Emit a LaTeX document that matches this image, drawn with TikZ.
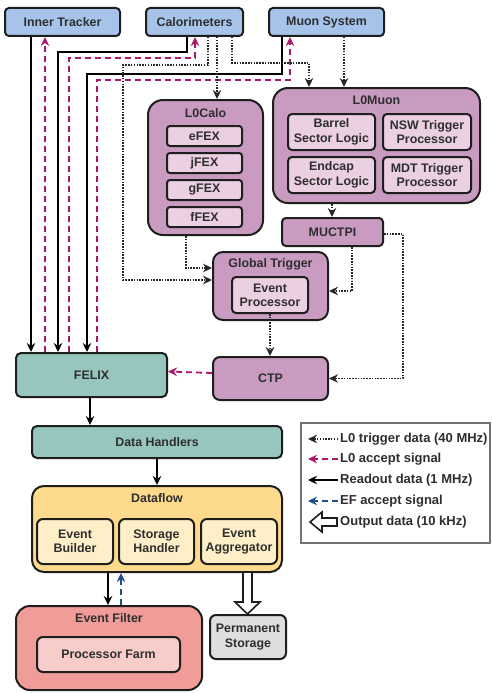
\documentclass[tikz,border=0pt]{standalone}
\usepackage{fontspec}
\setmainfont{Liberation Sans}
\usetikzlibrary{arrows.meta,calc}
\definecolor{cblue}{HTML}{A6C4EA}
\definecolor{cmauve}{HTML}{C99BC0}
\definecolor{cmauvel}{HTML}{EBD0E3}
\definecolor{cteal}{HTML}{97C6BF}
\definecolor{cyel}{HTML}{FDDA8C}
\definecolor{cyell}{HTML}{FEEFC8}
\definecolor{cred}{HTML}{F09C98}
\definecolor{credl}{HTML}{F7CCC9}
\definecolor{cgray}{HTML}{DEDEDE}
\definecolor{cmag}{HTML}{A8186A}
\definecolor{cnavy}{HTML}{1F4E8C}
\definecolor{cline}{HTML}{1E1E1E}
\begin{document}
\begin{tikzpicture}[x=1pt,y=-1pt,
  >={Stealth[length=9pt,width=8.5pt,inset=3pt]},
  txt/.style={font=\fontsize{12.4}{14.4}\selectfont\bfseries, text=black!82, align=center},
  box/.style={txt, draw=cline, line width=2pt, inner sep=0pt},
  topbox/.style={box, fill=cblue, rounded corners=4pt},
  l0box/.style={box, fill=cmauve},
  subbox/.style={box, fill=cmauvel, rounded corners=4pt},
  tealbox/.style={box, fill=cteal, rounded corners=5pt},
  yelbox/.style={box, fill=cyel},
  yelsub/.style={box, fill=cyell, rounded corners=6pt},
  title/.style={txt, inner sep=0pt},
  readout/.style={draw=black, line width=1.8pt, ->},
  accept/.style={draw=cmag, line width=1.8pt, dash pattern=on 6pt off 4pt, ->},
  trig/.style={draw=black!85, line width=1.7pt, dash pattern=on 1.5pt off 1.3pt, ->},
  efacc/.style={draw=cnavy, line width=1.8pt, dash pattern=on 6pt off 4pt, ->},
  legtext/.style={txt, font=\fontsize{13}{15}\selectfont\bfseries, anchor=west, inner sep=0pt}
]
\useasboundingbox (0,0) rectangle (491,693);
\fill[white] (0,0) rectangle (491,693);

% top detectors
\node[topbox, minimum width=115pt, minimum height=28pt] (it) at (62.5,22) {Inner Tracker};
\node[topbox, minimum width=97pt, minimum height=28pt] (cal) at (194.5,22) {Calorimeters};
\node[topbox, minimum width=115pt, minimum height=28pt] (mu) at (326.5,22) {Muon System};

% L0Calo
\node[l0box, rounded corners=15pt, minimum width=115pt, minimum height=135pt] (l0calo) at (205.5,167.5) {};
\node[title] (l0calot) at (205.5,113) {L0Calo};
\node[subbox, rounded corners=3pt, minimum width=75pt, minimum height=20pt] (efex) at (204.5,136) {eFEX};
\node[subbox, rounded corners=3pt, minimum width=75pt, minimum height=20pt] (jfex) at (204.5,163) {jFEX};
\node[subbox, rounded corners=3pt, minimum width=75pt, minimum height=20pt] (gfex) at (204.5,190) {gFEX};
\node[subbox, rounded corners=3pt, minimum width=75pt, minimum height=20pt] (ffex) at (204.5,217) {fFEX};

% L0Muon
\node[l0box, rounded corners=15pt, minimum width=207pt, minimum height=115pt] (l0muon) at (376.5,145.5) {};
\node[title] (l0muont) at (376.5,100) {L0Muon};
\node[subbox, minimum width=87pt, minimum height=36pt] (barrel) at (331.5,132) {Barrel\\Sector Logic};
\node[subbox, minimum width=88pt, minimum height=36pt] (nsw) at (427,132) {NSW Trigger\\Processor};
\node[subbox, minimum width=87pt, minimum height=36pt] (endcap) at (331.5,175) {Endcap\\Sector Logic};
\node[subbox, minimum width=88pt, minimum height=36pt] (mdt) at (427,175) {MDT Trigger\\Processor};

% MUCTPI, Global Trigger, CTP
\node[l0box, rounded corners=4pt, minimum width=101pt, minimum height=28pt] (muctpi) at (332.5,232) {MUCTPI};
\node[l0box, rounded corners=10pt, minimum width=115pt, minimum height=68pt] (gt) at (270.5,286) {};
\node[title] (gtt) at (270.5,264) {Global Trigger};
\node[subbox, minimum width=76pt, minimum height=36pt] (ep) at (270,295) {Event\\Processor};
\node[l0box, rounded corners=7pt, minimum width=115pt, minimum height=43pt] (ctp) at (270.5,378.5) {CTP};

% readout chain
\node[tealbox, minimum width=151pt, minimum height=44pt] (felix) at (91.5,375) {FELIX};
\node[tealbox, minimum width=250pt, minimum height=32pt] (dh) at (157,442) {Data Handlers};
\node[yelbox, rounded corners=12pt, minimum width=250pt, minimum height=86pt] (df) at (157,529) {};
\node[title] (dft) at (157,498) {Dataflow};
\node[yelsub, minimum width=76pt, minimum height=45pt] (eb) at (75,541.5) {Event\\Builder};
\node[yelsub, minimum width=75pt, minimum height=45pt] (sh) at (156.5,541.5) {Storage\\Handler};
\node[yelsub, minimum width=76pt, minimum height=45pt] (ea) at (239,541.5) {Event\\Aggregator};
\node[box, fill=cred, rounded corners=14pt, minimum width=186pt, minimum height=84pt] (ef) at (109,648) {};
\node[title] (eft) at (109,618) {Event Filter};
\node[box, fill=credl, rounded corners=6pt, minimum width=143pt, minimum height=35pt] (pf) at (108.5,654.5) {Processor Farm};
\node[box, fill=cgray, rounded corners=6pt, minimum width=76pt, minimum height=44pt] (ps) at (248,637) {Permanent\\Storage};

% detector readout / accept lines
\draw[readout] ([xshift=-31.5pt]it.south) -- ([xshift=-60.5pt]felix.north);
\draw[accept] ([xshift=-46.5pt]felix.north) -- ([xshift=-17.5pt]it.south);
\draw[readout] ([xshift=-7.5pt]cal.south) -- ++(0,15) -| ([xshift=-33.5pt]felix.north);
\draw[accept] ([xshift=-22.5pt]felix.north) |- (195,58) -- ([xshift=0.5pt]cal.south);
\draw[readout] ([xshift=-44.5pt]mu.south) -- ++(0,37) -| ([xshift=-4.5pt]felix.north);
\draw[accept] ([xshift=5.5pt]felix.north) |- (290,80) -- ([xshift=-36.5pt]mu.south);

% trigger data
\draw[trig] ([xshift=13.5pt]cal.south) |- (123,65) |- ([yshift=6pt]gt.west);
\draw[trig] ([xshift=22.5pt]cal.south) -- ([xshift=11.5pt]l0calo.north);
\draw[trig] ([xshift=37.5pt]cal.south) |- (309,63) -- ([xshift=-67.5pt]l0muon.north);
\draw[trig] ([xshift=17.5pt]mu.south) -- ([xshift=-32.5pt]l0muon.north);
\draw[trig] ([xshift=-19.5pt]l0calo.south) |- ([yshift=18pt]gt.west);
\draw[trig] ([xshift=-44.5pt]l0muon.south) -- ([xshift=-0.5pt]muctpi.north);
\draw[trig] ([xshift=19.5pt]muctpi.south) |- ([yshift=-5pt]gt.east);
\draw[trig] ([yshift=-2pt]muctpi.east) -- ++(19,0) |- (ctp.east);
\draw[trig] (ep.south) -- (ep.south |- ctp.north);

% L0 accept to FELIX
\draw[accept] ([yshift=5.5pt]ctp.west) -- ([yshift=3.5pt]felix.east);

% dataflow
\draw[readout] ([xshift=-1.5pt]felix.south) -- ([xshift=-1.5pt]felix.south |- dh.north);
\draw[readout] (dh.south) -- (df.north);
\draw[readout] ([xshift=-49pt]df.south) -- ([xshift=-1pt]ef.north);
\draw[efacc] ([xshift=12pt]ef.north) -- ([xshift=-36pt]df.south);

% hollow output arrow
\coordinate (pa) at ([xshift=90.5pt]df.south);
\coordinate (pb) at ([xshift=-0.5pt]ps.north);
\draw[draw=cline, fill=white, line width=1.6pt, line join=miter]
  ($(pa)+(-4.5,0)$) -- ($(pb)+(-4.5,-12)$) -- ($(pb)+(-12.5,-12)$) -- (pb)
  -- ($(pb)+(12.5,-12)$) -- ($(pb)+(4.5,-12)$) -- ($(pa)+(4.5,0)$);

% legend
\node[draw=black!55, line width=1.4pt, minimum width=189pt, minimum height=120pt, inner sep=0pt] (leg) at (395.5,483) {};
\node[legtext] (lg1) at (340,439) {L0 trigger data (40 MHz)};
\node[legtext] (lg2) at (340,459) {L0 accept signal};
\node[legtext] (lg3) at (340,480) {Readout data (1 MHz)};
\node[legtext] (lg4) at (340,501) {EF accept signal};
\node[legtext] (lg5) at (340,522) {Output data (10 kHz)};
\coordinate (lga1) at (308,439);
\coordinate (lga2) at (308,459);
\coordinate (lga3) at (308,480);
\coordinate (lga4) at (308,501);
\draw[trig] ([xshift=-2pt]lg1.west) -- (lga1);
\draw[accept] ([xshift=-2pt]lg2.west) -- (lga2);
\draw[readout] ([xshift=-2pt]lg3.west) -- (lga3);
\draw[efacc] ([xshift=-2pt]lg4.west) -- (lga4);
\coordinate (lgt) at (310,522);
\draw[draw=cline, fill=white, line width=1.6pt, line join=miter]
  (lgt) -- ++(12,-10) -- ++(0,6) -- ++(15,0) -- ++(0,8) -- ++(-15,0) -- ++(0,6) -- cycle;
\end{tikzpicture}
\end{document}
